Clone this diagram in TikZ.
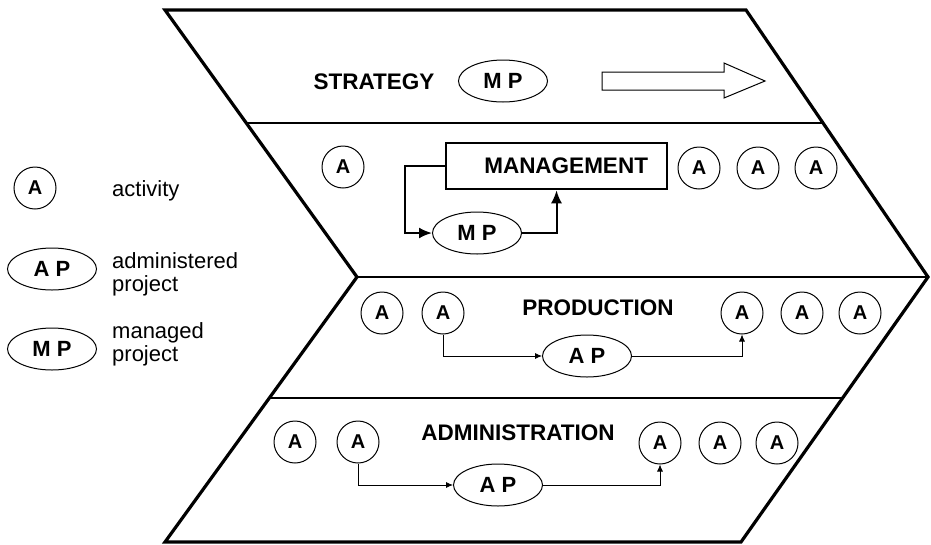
\documentclass[tikz,border=0pt]{standalone}
\usepackage{fontspec}
\setmainfont{Liberation Sans}
\usetikzlibrary{shapes.geometric,arrows.meta,calc}
\begin{document}
\begin{tikzpicture}[x=1pt,y=-1pt,
		act_style/.style={circle,draw=black,line width=1pt,minimum size=42pt,inner sep=0pt,font=\fontsize{20}{22}\selectfont\bfseries},
		proj_style/.style={ellipse,draw=black,line width=1pt,minimum width=89pt,minimum height=42pt,inner sep=0pt,font=\fontsize{22}{24}\selectfont\bfseries},
		label_style/.style={inner sep=0pt,font=\fontsize{22.5}{26}\selectfont\bfseries},
		key_style/.style={anchor=west,align=left,inner sep=0pt,font=\fontsize{22}{23}\selectfont},
		box_style/.style={draw=black,line width=2.5pt,minimum height=46pt,text width=183pt,inner xsep=19pt,align=right,font=\fontsize{22.5}{26}\selectfont\bfseries},
		edge_style/.style={draw=black,line width=0.8pt,-{Latex[length=7pt,width=6pt]}},
		loop_style/.style={draw=black,line width=2pt,-{Latex[length=13pt,width=11pt]}}]

		\useasboundingbox (0,0) rectangle (931,544);

		\coordinate (tl) at (165,10);
		\coordinate (tr) at (746,10);
		\coordinate (tip) at (928,277);
		\coordinate (br) at (741,542);
		\coordinate (bl) at (165,542);
		\coordinate (notch) at (357,277);
		\draw[line width=3.2pt] (tl) -- (tr) -- (tip) -- (br) -- (bl) -- (notch) -- cycle;
		\draw[line width=1.5pt] ($(tl)!0.423!(notch)$) -- ($(tr)!0.423!(tip)$);
		\draw[line width=1.5pt] (notch) -- (tip);
		\draw[line width=1.5pt] ($(notch)!0.457!(bl)$) -- ($(tip)!0.457!(br)$);

		\node[act_style] (k0) at (35,188) {A};
		\node[proj_style] (k1) at (52,269) {A P};
		\node[proj_style] (k2) at (52,349) {M P};
		\node[key_style] (t0) at (112,191) {activity};
		\node[key_style] (t1) at (112,274) {administered\\project};
		\node[key_style] (t2) at (112,344) {managed\\project};

		\node[label_style] (s0) at (374,82) {STRATEGY};
		\node[proj_style] (mp0) at (503,81) {M P};
		\draw[line width=1pt] (602,72) -- (724,72) -- (724,63) -- (765,81) -- (724,98) -- (724,90) -- (602,90) -- cycle;

		\node[act_style] (a0) at (343,167) {A};
		\node[box_style] (mgmt) at (556.5,166) {MANAGEMENT};
		\node[act_style] (a1) at (699,168) {A};
		\node[act_style] (a2) at (758,168) {A};
		\node[act_style] (a3) at (816,168) {A};
		\node[proj_style] (mp1) at (477,233) {M P};

		\node[act_style] (a4) at (382,313) {A};
		\node[act_style] (a5) at (443,313) {A};
		\node[label_style] (s1) at (598,308) {PRODUCTION};
		\node[act_style] (a6) at (742,313) {A};
		\node[act_style] (a7) at (802,313) {A};
		\node[act_style] (a8) at (860,313) {A};
		\node[proj_style] (ap0) at (587,356) {A P};

		\node[act_style] (a9) at (295,442) {A};
		\node[act_style] (a10) at (358,442) {A};
		\node[label_style] (s2) at (518,433) {ADMINISTRATION};
		\node[act_style] (a11) at (660,443) {A};
		\node[act_style] (a12) at (720,443) {A};
		\node[act_style] (a13) at (777,443) {A};
		\node[proj_style] (ap1) at (498,485) {A P};

		\draw[loop_style] (mgmt.west) -- ++(-40,0) |- (mp1.west);
		\draw[loop_style] (mp1.east) -| (mgmt.south);
		\draw[edge_style] (a5.south) |- (ap0.west);
		\draw[edge_style] (ap0.east) -| (a6.south);
		\draw[edge_style] (a10.south) |- (ap1.west);
		\draw[edge_style] (ap1.east) -| (a11.south);
		\end{tikzpicture}
\end{document}
